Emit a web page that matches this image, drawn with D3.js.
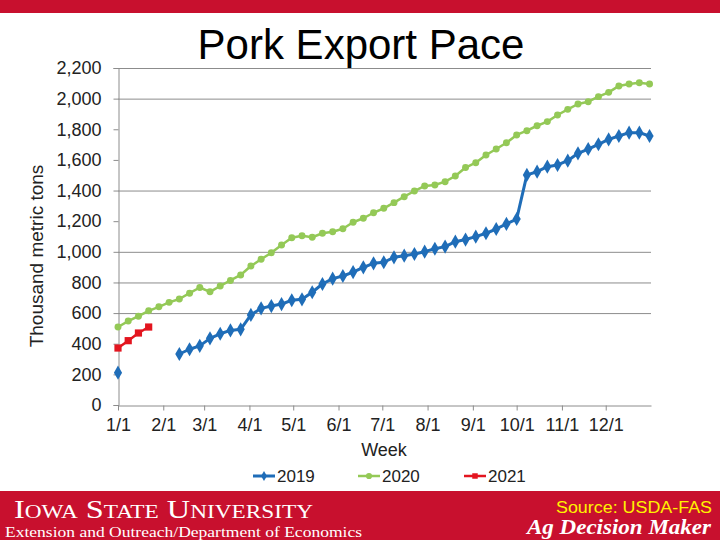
<!DOCTYPE html>
<html>
<head>
<meta charset="utf-8">
<script src="https://cdn.jsdelivr.net/npm/d3@7"></script>
<style>
  html, body { margin: 0; padding: 0; background: #fff; }
  svg { display: block; }
</style>
</head>
<body>
<svg id="chart" width="720" height="540"></svg>
<script>
// ---- data ----
const weeks = [1,2,3,4,5,6,7,8,9,10,11,12,13,14,15,16,17,18,19,20,21,22,23,24,25,26,27,28,29,30,31,32,33,34,35,36,37,38,39,40,41,42,43,44,45,46,47,48,49,50,51,52,53];
const pace2019 = [211,null,null,null,null,null,333,364,386,435,465,487,494,588,631,646,659,684,690,736,790,825,842,868,899,925,932,964,975,986,1001,1020,1034,1066,1080,1099,1121,1149,1182,1214,1502,1523,1556,1567,1595,1643,1671,1702,1734,1756,1778,1778,1756];
const pace2020 = [509,548,580,615,641,670,692,730,767,739,777,813,849,907,951,994,1045,1092,1105,1095,1121,1131,1151,1193,1219,1255,1284,1321,1360,1397,1430,1436,1458,1495,1550,1582,1632,1671,1712,1763,1791,1823,1850,1893,1930,1965,1980,2013,2041,2083,2096,2104,2096];
const pace2021 = [372,420,470,509];
const seriesNames = ["2019","2020","2021"];
const yTicks = [0,200,400,600,800,1000,1200,1400,1600,1800,2000,2200];
const visibleGrid = [600,800,1000,1400,2000,2200];
const monthTicks = ["1/1","2/1","3/1","4/1","5/1","6/1","7/1","8/1","9/1","10/1","11/1","12/1"];
const title = "Pork Export Pace";
const yTitle = "Thousand metric tons";
const xTitle = "Week";

// ---- layout ----
const svg = d3.select("#chart");
const sans = "'Liberation Sans', Arial, sans-serif";
const serif = "'Liberation Serif', 'Times New Roman', serif";
const RED = "#C8102E";
const colors = {"2019": "#1F6DB8", "2020": "#94C957", "2021": "#E3151F"};

const plot = {left: 118, right: 651, top: 68, bottom: 405};

const start = new Date(Date.UTC(2019, 0, 1));
const x = d3.scaleUtc()
  .domain([start, new Date(Date.UTC(2020, 0, 1))])
  .range([plot.left, plot.right]);
const y = d3.scaleLinear().domain([0, 2200]).range([plot.bottom, plot.top]);
const weekDate = w => d3.utcDay.offset(start, (w - 1) * 7);
const parseTick = d3.utcParse("%m/%d/%Y");
const tickDates = monthTicks.map(t => parseTick(t + "/2019"));

// top bar
svg.append("rect").attr("x", 0).attr("y", 0).attr("width", 720).attr("height", 13).attr("fill", RED);

// title
svg.append("text").attr("x", 361).attr("y", 59).attr("text-anchor", "middle")
  .attr("font-family", sans).attr("font-size", 42).attr("fill", "#000").text(title);

// gridlines
svg.append("g").selectAll("line").data(visibleGrid).join("line")
  .attr("x1", plot.left).attr("x2", plot.right)
  .attr("y1", d => y(d) + 0.5).attr("y2", d => y(d) + 0.5)
  .attr("stroke", "#8c8c8c").attr("stroke-width", 1);

// y axis
const yAxis = svg.append("g").attr("transform", `translate(${plot.left + 0.5},0)`)
  .call(d3.axisLeft(y).tickValues(yTicks).tickFormat(d3.format(",")).tickSize(5).tickPadding(12));
yAxis.select(".domain").attr("stroke", "#8c8c8c");
yAxis.selectAll(".tick line").attr("stroke", "#8c8c8c");
yAxis.selectAll("text").attr("font-family", sans).attr("font-size", 18).attr("fill", "#222");

// x axis
const xAxis = svg.append("g").attr("transform", `translate(0,${plot.bottom + 0.5})`)
  .call(d3.axisBottom(x).tickValues(tickDates).tickFormat((d, i) => monthTicks[i]).tickSize(5).tickPadding(8).tickSizeOuter(0));
xAxis.select(".domain").attr("stroke", "#8c8c8c");
xAxis.selectAll(".tick line").attr("stroke", "#8c8c8c");
xAxis.selectAll("text").attr("font-family", sans).attr("font-size", 18).attr("fill", "#222");

// axis titles
svg.append("text").attr("transform", "translate(43,256) rotate(-90)").attr("text-anchor", "middle")
  .attr("font-family", sans).attr("font-size", 19).attr("fill", "#222").text(yTitle);
svg.append("text").attr("x", 384).attr("y", 456).attr("text-anchor", "middle")
  .attr("font-family", sans).attr("font-size", 18).attr("fill", "#222").text(xTitle);

// series
const seriesData = [
  {name: "2019", values: pace2019, shape: "diamond", width: 3},
  {name: "2020", values: pace2020, shape: "circle", width: 2.5},
  {name: "2021", values: pace2021, shape: "square", width: 2.5}
];
const symType = s => s === "diamond" ? d3.symbolDiamond : s === "circle" ? d3.symbolCircle : d3.symbolSquare;
const symSize = {diamond: 58, circle: 38, square: 52};

const line = d3.line().defined(d => d.v != null).x(d => x(weekDate(d.w))).y(d => y(d.v));

seriesData.forEach(s => {
  const pts = s.values.map((v, i) => ({w: weeks[i], v}));
  const g = svg.append("g");
  g.append("path").datum(pts).attr("d", line).attr("fill", "none")
    .attr("stroke", colors[s.name]).attr("stroke-width", s.width).attr("stroke-linejoin", "round");
  g.selectAll("path.m").data(pts.filter(d => d.v != null)).join("path").attr("class", "m")
    .attr("transform", d => `translate(${x(weekDate(d.w))},${y(d.v)})`)
    .attr("d", d3.symbol(symType(s.shape), symSize[s.shape])()).attr("fill", colors[s.name]);
});

// legend
const legendX = {"2019": 253, "2020": 358, "2021": 464};
seriesData.forEach(s => {
  const lx = legendX[s.name], ly = 476;
  svg.append("line").attr("x1", lx).attr("x2", lx + 22).attr("y1", ly).attr("y2", ly)
    .attr("stroke", colors[s.name]).attr("stroke-width", s.width);
  svg.append("path").attr("transform", `translate(${lx + 11},${ly})`)
    .attr("d", d3.symbol(symType(s.shape), 30)())
    .attr("fill", colors[s.name]);
  svg.append("text").attr("x", lx + 24).attr("y", ly + 6)
    .attr("font-family", sans).attr("font-size", 17).attr("fill", "#222").text(s.name);
});

// footer
svg.append("rect").attr("x", 0).attr("y", 491).attr("width", 720).attr("height", 49).attr("fill", RED);
svg.append("text").attr("x", 14).attr("y", 518).attr("font-family", serif).attr("font-size", 25)
  .attr("font-variant", "small-caps").attr("fill", "#fff")
  .attr("textLength", 299).attr("lengthAdjust", "spacingAndGlyphs").text("Iowa State University");
svg.append("text").attr("x", 5).attr("y", 537).attr("font-family", serif).attr("font-size", 14)
  .attr("fill", "#fff").attr("textLength", 357).attr("lengthAdjust", "spacingAndGlyphs")
  .text("Extension and Outreach/Department of Economics");
svg.append("text").attr("x", 556).attr("y", 513).attr("font-family", sans).attr("font-size", 16)
  .attr("fill", "#FFF200").attr("textLength", 156).attr("lengthAdjust", "spacingAndGlyphs").text("Source: USDA-FAS");
svg.append("text").attr("x", 527).attr("y", 534).attr("font-family", serif).attr("font-size", 21)
  .attr("font-weight", "bold").attr("font-style", "italic").attr("fill", "#fff")
  .attr("textLength", 184).attr("lengthAdjust", "spacingAndGlyphs").text("Ag Decision Maker");
</script>
</body>
</html>
